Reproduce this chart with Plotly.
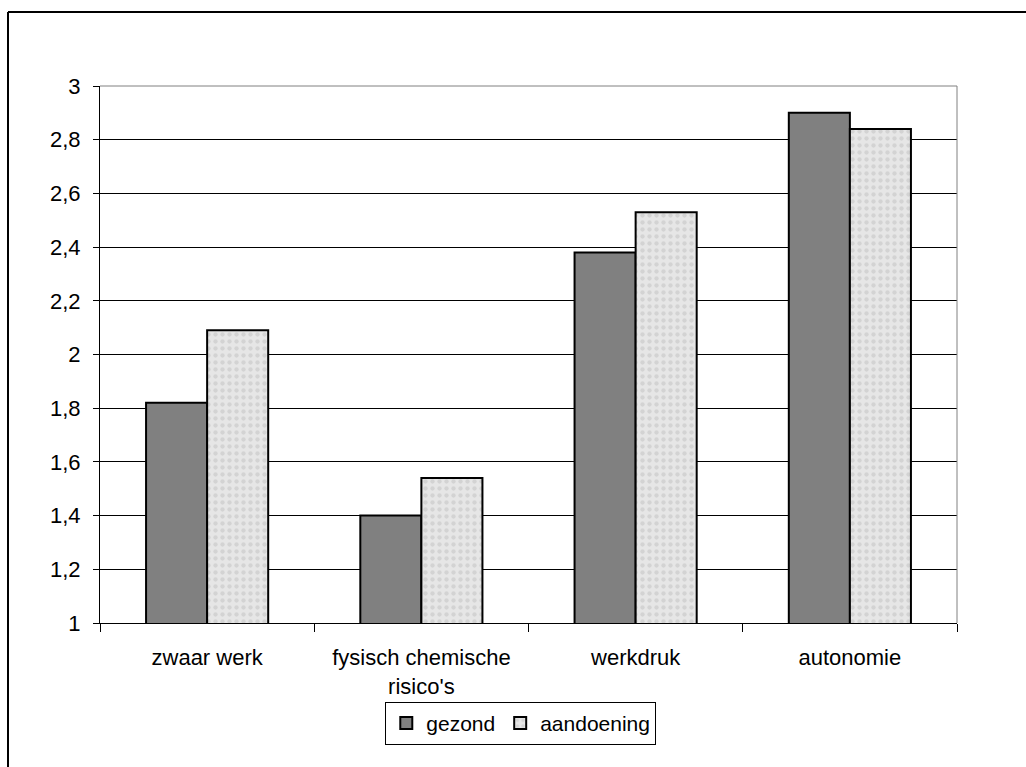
import plotly.graph_objects as go

# Mean scores per work-condition category
categories = ["zwaar werk", "fysisch chemische<br>risico's", "werkdruk", "autonomie"]
gezond = [1.82, 1.40, 2.38, 2.90]
aandoening = [2.09, 1.54, 2.53, 2.84]

y_tickvals = [1, 1.2, 1.4, 1.6, 1.8, 2, 2.2, 2.4, 2.6, 2.8, 3]
y_ticktext = ["1", "1,2", "1,4", "1,6", "1,8", "2", "2,2", "2,4", "2,6", "2,8", "3"]

FONT = "Liberation Sans, Arial, sans-serif"
FS = 22

fig = go.Figure()
fig.add_trace(go.Bar(
    name="gezond", x=categories, y=gezond,
    marker=dict(color="#808080", line=dict(color="#000000", width=2)),
))
fig.add_trace(go.Bar(
    name="aandoening", x=categories, y=aandoening,
    marker=dict(
        color="#e2e2e2",
        line=dict(color="#000000", width=2),
        pattern=dict(shape=".", fgcolor="#c0c0c0", bgcolor="#e6e6e6",
                     size=7, solidity=0.3),
    ),
))

fig.update_layout(
    width=1026, height=767,
    margin=dict(l=100, r=69, t=86, b=144),
    paper_bgcolor="white", plot_bgcolor="white",
    font=dict(family=FONT, size=FS, color="#000000"),
    barmode="group", bargap=0.43, bargroupgap=0,
    showlegend=True,
    legend=dict(
        orientation="h", x=0.491, xanchor="center", y=-0.147, yanchor="top",
        bordercolor="#000000", borderwidth=1, bgcolor="white",
        font=dict(family=FONT, size=FS - 1), itemwidth=30,
        traceorder="normal", tracegroupgap=0,
    ),
    separators=", ",
)

fig.update_xaxes(
    type="category", tickson="boundaries", ticks="outside", ticklen=8,
    tickcolor="#000000", tickwidth=1,
    showline=True, linecolor="#000000", linewidth=1,
    showgrid=False, ticklabelstandoff=15,
    tickfont=dict(family=FONT, size=FS),
)
fig.update_yaxes(
    range=[1, 3], tickvals=y_tickvals, ticktext=y_ticktext,
    ticks="outside", ticklen=6, tickcolor="#000000", tickwidth=1,
    showline=True, linecolor="#000000", linewidth=1,
    showgrid=True, gridcolor="#000000", gridwidth=1,
    zeroline=False, ticklabelstandoff=8,
    tickfont=dict(family=FONT, size=FS),
)

# Gray plot-area border on top and right
fig.add_shape(type="line", xref="paper", yref="paper", x0=0, x1=1, y0=1, y1=1,
              line=dict(color="#808080", width=1), layer="above")
fig.add_shape(type="line", xref="paper", yref="paper", x0=1, x1=1, y0=0, y1=1,
              line=dict(color="#808080", width=1), layer="above")

# Outer chart frame (left and top edges)
fig.add_shape(type="line", xref="paper", yref="paper",
              x0=-92 / 857, x1=1.2, y0=611 / 537, y1=611 / 537,
              line=dict(color="#000000", width=2), layer="above")
fig.add_shape(type="line", xref="paper", yref="paper",
              x0=-92 / 857, x1=-92 / 857, y0=611 / 537, y1=-0.5,
              line=dict(color="#000000", width=2), layer="above")

fig.write_html("out.html")
